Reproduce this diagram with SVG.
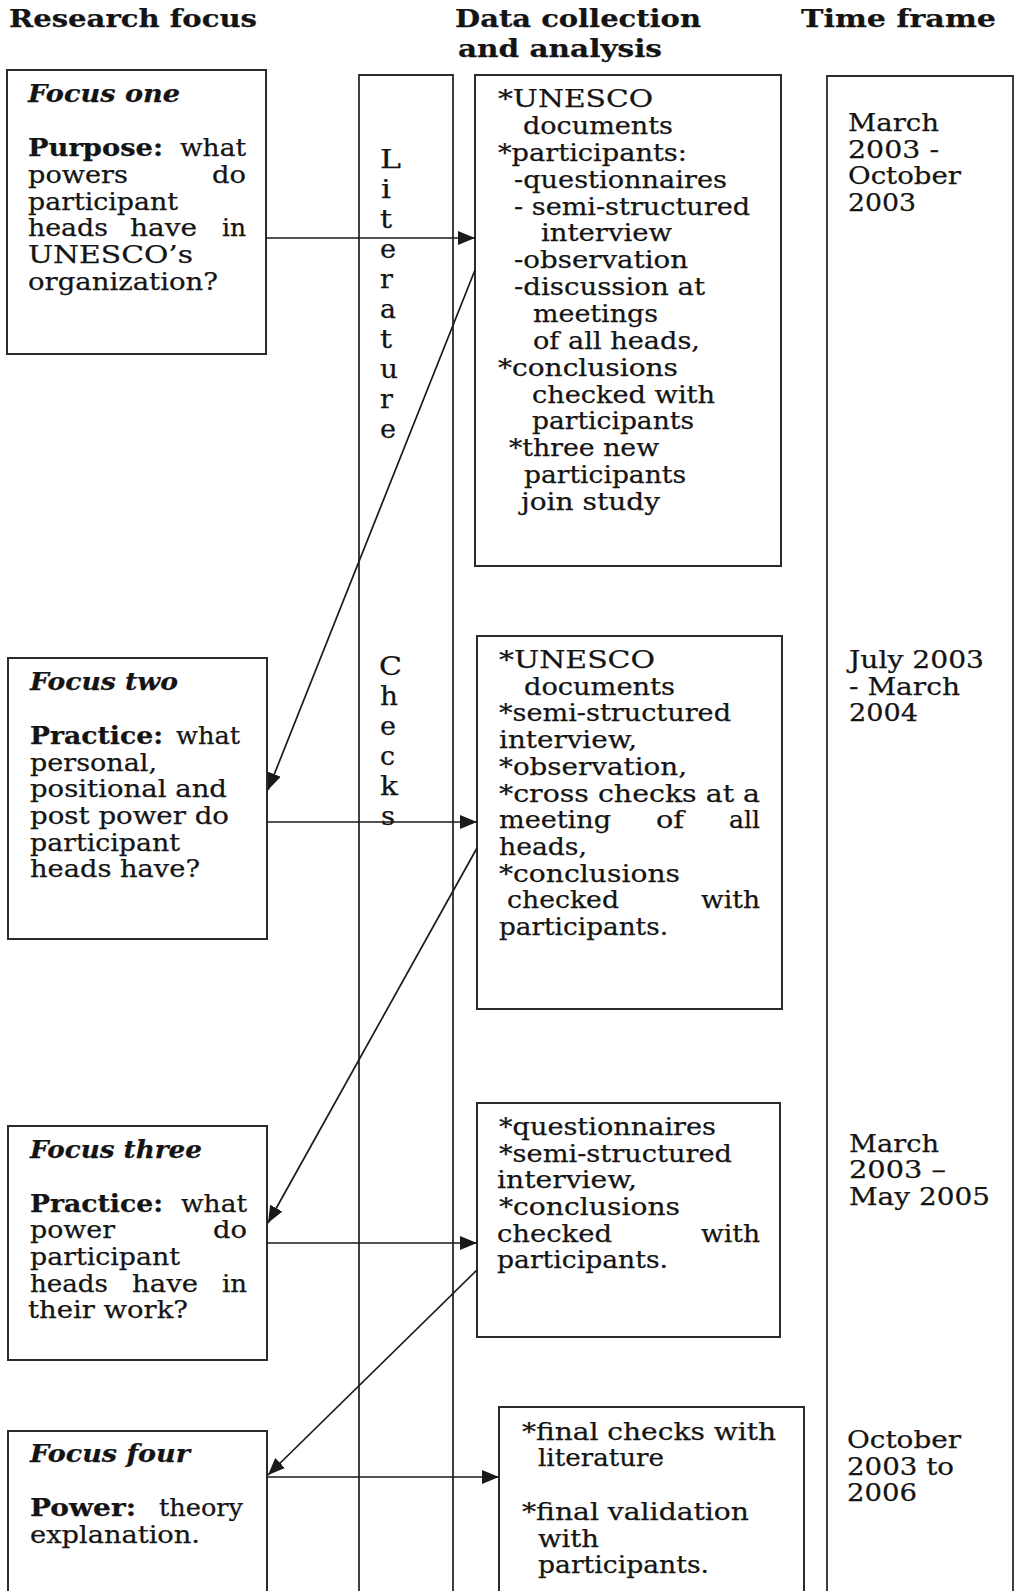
<svg xmlns="http://www.w3.org/2000/svg" width="1014" height="1591" viewBox="0 0 1014 1591">
<style>
text { font-family: "DejaVu Serif", "Liberation Serif", serif; font-size: 24px; fill: #141414; stroke: #141414; stroke-width: 0.25; }
.h { font-size: 25px; font-weight: bold; }
.b { font-weight: bold; }
.bi { font-weight: bold; font-style: italic; }
.v { font-size: 26px; }
.box { fill: none; stroke: #2b2b2b; stroke-width: 2; }
.col { fill: none; stroke: #2b2b2b; stroke-width: 1.8; }
.conn { fill: none; stroke: #1a1a1a; stroke-width: 1.7; marker-end: url(#ah); }
</style>
<defs>
<marker id="ah" markerUnits="userSpaceOnUse" markerWidth="18" markerHeight="14" refX="17" refY="7" orient="auto">
<path d="M0,0 L17,7 L0,14 z" fill="#1a1a1a"/>
</marker>
</defs>
<rect width="1014" height="1591" fill="#ffffff"/>

<g id="headers">
<text class="h" x="9" y="27" textLength="248" lengthAdjust="spacingAndGlyphs">Research focus</text>
<text class="h" x="455" y="27" textLength="246" lengthAdjust="spacingAndGlyphs">Data collection</text>
<text class="h" x="458" y="57" textLength="204" lengthAdjust="spacingAndGlyphs">and analysis</text>
<text class="h" x="801" y="27" textLength="195" lengthAdjust="spacingAndGlyphs">Time frame</text>
</g>

<g id="literature-checks">
<path class="col" d="M359,1595 V75 H453 V1595"/>
<text class="v" x="380" y="168" textLength="21" lengthAdjust="spacingAndGlyphs">L</text>
<text class="v" x="381" y="198" textLength="10" lengthAdjust="spacingAndGlyphs">i</text>
<text class="v" x="380" y="228" textLength="12" lengthAdjust="spacingAndGlyphs">t</text>
<text class="v" x="380" y="258" textLength="16" lengthAdjust="spacingAndGlyphs">e</text>
<text class="v" x="380" y="288" textLength="13" lengthAdjust="spacingAndGlyphs">r</text>
<text class="v" x="380" y="318" textLength="16" lengthAdjust="spacingAndGlyphs">a</text>
<text class="v" x="380" y="348" textLength="12" lengthAdjust="spacingAndGlyphs">t</text>
<text class="v" x="380" y="378" textLength="18" lengthAdjust="spacingAndGlyphs">u</text>
<text class="v" x="380" y="408" textLength="13" lengthAdjust="spacingAndGlyphs">r</text>
<text class="v" x="380" y="438" textLength="16" lengthAdjust="spacingAndGlyphs">e</text>
<text class="v" x="379" y="675" textLength="23" lengthAdjust="spacingAndGlyphs">C</text>
<text class="v" x="380" y="705" textLength="18" lengthAdjust="spacingAndGlyphs">h</text>
<text class="v" x="380" y="735" textLength="16" lengthAdjust="spacingAndGlyphs">e</text>
<text class="v" x="380" y="765" textLength="15" lengthAdjust="spacingAndGlyphs">c</text>
<text class="v" x="380" y="795" textLength="18" lengthAdjust="spacingAndGlyphs">k</text>
<text class="v" x="381" y="825" textLength="14" lengthAdjust="spacingAndGlyphs">s</text>
</g>

<g id="timeframe">
<path class="col" d="M827,1595 V76 H1013 V1595"/>
<text x="848" y="131" textLength="91" lengthAdjust="spacingAndGlyphs">March</text>
<text x="848" y="158" textLength="91" lengthAdjust="spacingAndGlyphs">2003 -</text>
<text x="848" y="184" textLength="113" lengthAdjust="spacingAndGlyphs">October</text>
<text x="848" y="211" textLength="68" lengthAdjust="spacingAndGlyphs">2003</text>
<text x="849" y="668" textLength="135" lengthAdjust="spacingAndGlyphs">July 2003</text>
<text x="849" y="695" textLength="111" lengthAdjust="spacingAndGlyphs">- March</text>
<text x="849" y="721" textLength="69" lengthAdjust="spacingAndGlyphs">2004</text>
<text x="849" y="1152" textLength="90" lengthAdjust="spacingAndGlyphs">March</text>
<text x="849" y="1178" textLength="97" lengthAdjust="spacingAndGlyphs">2003 –</text>
<text x="849" y="1205" textLength="141" lengthAdjust="spacingAndGlyphs">May 2005</text>
<text x="847" y="1448" textLength="114" lengthAdjust="spacingAndGlyphs">October</text>
<text x="847" y="1475" textLength="107" lengthAdjust="spacingAndGlyphs">2003 to</text>
<text x="847" y="1501" textLength="70" lengthAdjust="spacingAndGlyphs">2006</text>
</g>

<g id="focus-one">
<rect class="box" x="7" y="70" width="259" height="284"/>
<text class="bi" x="28" y="102" textLength="152" lengthAdjust="spacingAndGlyphs">Focus one</text>
<text class="b" x="28" y="156" textLength="135" lengthAdjust="spacingAndGlyphs">Purpose:</text>
<text x="180" y="156" textLength="66" lengthAdjust="spacingAndGlyphs">what</text>
<text x="28" y="183" textLength="100" lengthAdjust="spacingAndGlyphs">powers</text>
<text x="212" y="183" textLength="34" lengthAdjust="spacingAndGlyphs">do</text>
<text x="28" y="210" textLength="150" lengthAdjust="spacingAndGlyphs">participant</text>
<text x="28" y="236" textLength="80" lengthAdjust="spacingAndGlyphs">heads</text>
<text x="130" y="236" textLength="67" lengthAdjust="spacingAndGlyphs">have</text>
<text x="222" y="236" textLength="24" lengthAdjust="spacingAndGlyphs">in</text>
<text x="28" y="263" textLength="165" lengthAdjust="spacingAndGlyphs">UNESCO’s</text>
<text x="28" y="290" textLength="190" lengthAdjust="spacingAndGlyphs">organization?</text>
</g>

<g id="focus-two">
<rect class="box" x="8" y="658" width="259" height="281"/>
<text class="bi" x="30" y="690" textLength="148" lengthAdjust="spacingAndGlyphs">Focus two</text>
<text class="b" x="30" y="744" textLength="133" lengthAdjust="spacingAndGlyphs">Practice:</text>
<text x="176" y="744" textLength="64" lengthAdjust="spacingAndGlyphs">what</text>
<text x="30" y="771" textLength="127" lengthAdjust="spacingAndGlyphs">personal,</text>
<text x="30" y="797" textLength="197" lengthAdjust="spacingAndGlyphs">positional and</text>
<text x="30" y="824" textLength="199" lengthAdjust="spacingAndGlyphs">post power do</text>
<text x="30" y="851" textLength="150" lengthAdjust="spacingAndGlyphs">participant</text>
<text x="30" y="877" textLength="170" lengthAdjust="spacingAndGlyphs">heads have?</text>
</g>

<g id="focus-three">
<rect class="box" x="8" y="1126" width="259" height="234"/>
<text class="bi" x="30" y="1158" textLength="172" lengthAdjust="spacingAndGlyphs">Focus three</text>
<text class="b" x="30" y="1212" textLength="133" lengthAdjust="spacingAndGlyphs">Practice:</text>
<text x="181" y="1212" textLength="66" lengthAdjust="spacingAndGlyphs">what</text>
<text x="30" y="1238" textLength="85" lengthAdjust="spacingAndGlyphs">power</text>
<text x="213" y="1238" textLength="34" lengthAdjust="spacingAndGlyphs">do</text>
<text x="30" y="1265" textLength="150" lengthAdjust="spacingAndGlyphs">participant</text>
<text x="30" y="1292" textLength="78" lengthAdjust="spacingAndGlyphs">heads</text>
<text x="132" y="1292" textLength="66" lengthAdjust="spacingAndGlyphs">have</text>
<text x="222" y="1292" textLength="25" lengthAdjust="spacingAndGlyphs">in</text>
<text x="28" y="1318" textLength="160" lengthAdjust="spacingAndGlyphs">their work?</text>
</g>

<g id="focus-four">
<path class="box" d="M8,1595 V1431 H267 V1595"/>
<text class="bi" x="30" y="1462" textLength="160" lengthAdjust="spacingAndGlyphs">Focus four</text>
<text class="b" x="30" y="1516" textLength="106" lengthAdjust="spacingAndGlyphs">Power:</text>
<text x="159" y="1516" textLength="84" lengthAdjust="spacingAndGlyphs">theory</text>
<text x="30" y="1543" textLength="170" lengthAdjust="spacingAndGlyphs">explanation.</text>
</g>

<g id="data-one">
<rect class="box" x="475" y="75" width="306" height="491"/>
<text x="498" y="107" textLength="155" lengthAdjust="spacingAndGlyphs">*UNESCO</text>
<text x="523" y="134" textLength="150" lengthAdjust="spacingAndGlyphs">documents</text>
<text x="498" y="161" textLength="189" lengthAdjust="spacingAndGlyphs">*participants:</text>
<text x="514" y="188" textLength="213" lengthAdjust="spacingAndGlyphs">-questionnaires</text>
<text x="514" y="215" textLength="236" lengthAdjust="spacingAndGlyphs">- semi-structured</text>
<text x="541" y="241" textLength="131" lengthAdjust="spacingAndGlyphs">interview</text>
<text x="514" y="268" textLength="174" lengthAdjust="spacingAndGlyphs">-observation</text>
<text x="514" y="295" textLength="191" lengthAdjust="spacingAndGlyphs">-discussion at</text>
<text x="533" y="322" textLength="125" lengthAdjust="spacingAndGlyphs">meetings</text>
<text x="533" y="349" textLength="167" lengthAdjust="spacingAndGlyphs">of all heads,</text>
<text x="498" y="376" textLength="180" lengthAdjust="spacingAndGlyphs">*conclusions</text>
<text x="532" y="403" textLength="183" lengthAdjust="spacingAndGlyphs">checked with</text>
<text x="532" y="429" textLength="162" lengthAdjust="spacingAndGlyphs">participants</text>
<text x="509" y="456" textLength="150" lengthAdjust="spacingAndGlyphs">*three new</text>
<text x="524" y="483" textLength="162" lengthAdjust="spacingAndGlyphs">participants</text>
<text x="521" y="510" textLength="139" lengthAdjust="spacingAndGlyphs">join study</text>
</g>

<g id="data-two">
<rect class="box" x="477" y="636" width="305" height="373"/>
<text x="499" y="668" textLength="156" lengthAdjust="spacingAndGlyphs">*UNESCO</text>
<text x="524" y="695" textLength="151" lengthAdjust="spacingAndGlyphs">documents</text>
<text x="499" y="721" textLength="232" lengthAdjust="spacingAndGlyphs">*semi-structured</text>
<text x="499" y="748" textLength="138" lengthAdjust="spacingAndGlyphs">interview,</text>
<text x="499" y="775" textLength="188" lengthAdjust="spacingAndGlyphs">*observation,</text>
<text x="499" y="802" textLength="261" lengthAdjust="spacingAndGlyphs">*cross checks at a</text>
<text x="499" y="828" textLength="112" lengthAdjust="spacingAndGlyphs">meeting</text>
<text x="656" y="828" textLength="28" lengthAdjust="spacingAndGlyphs">of</text>
<text x="729" y="828" textLength="31" lengthAdjust="spacingAndGlyphs">all</text>
<text x="499" y="855" textLength="88" lengthAdjust="spacingAndGlyphs">heads,</text>
<text x="499" y="882" textLength="181" lengthAdjust="spacingAndGlyphs">*conclusions</text>
<text x="507" y="908" textLength="112" lengthAdjust="spacingAndGlyphs">checked</text>
<text x="701" y="908" textLength="59" lengthAdjust="spacingAndGlyphs">with</text>
<text x="499" y="935" textLength="169" lengthAdjust="spacingAndGlyphs">participants.</text>
</g>

<g id="data-three">
<rect class="box" x="477" y="1103" width="303" height="234"/>
<text x="499" y="1135" textLength="217" lengthAdjust="spacingAndGlyphs">*questionnaires</text>
<text x="499" y="1162" textLength="233" lengthAdjust="spacingAndGlyphs">*semi-structured</text>
<text x="497" y="1188" textLength="140" lengthAdjust="spacingAndGlyphs">interview,</text>
<text x="499" y="1215" textLength="181" lengthAdjust="spacingAndGlyphs">*conclusions</text>
<text x="497" y="1242" textLength="115" lengthAdjust="spacingAndGlyphs">checked</text>
<text x="701" y="1242" textLength="59" lengthAdjust="spacingAndGlyphs">with</text>
<text x="497" y="1268" textLength="171" lengthAdjust="spacingAndGlyphs">participants.</text>
</g>

<g id="data-four">
<path class="box" d="M499,1595 V1407 H804 V1595"/>
<text x="522" y="1440" textLength="254" lengthAdjust="spacingAndGlyphs">*final checks with</text>
<text x="538" y="1466" textLength="126" lengthAdjust="spacingAndGlyphs">literature</text>
<text x="522" y="1520" textLength="227" lengthAdjust="spacingAndGlyphs">*final validation</text>
<text x="538" y="1547" textLength="61" lengthAdjust="spacingAndGlyphs">with</text>
<text x="538" y="1573" textLength="171" lengthAdjust="spacingAndGlyphs">participants.</text>
</g>

<g id="connectors">
<line class="conn" x1="266" y1="238" x2="475" y2="238"/>
<line class="conn" x1="475" y1="270" x2="268" y2="790"/>
<line class="conn" x1="267" y1="822" x2="477" y2="822"/>
<line class="conn" x1="477" y1="848" x2="268" y2="1223"/>
<line class="conn" x1="267" y1="1243" x2="477" y2="1243"/>
<line class="conn" x1="477" y1="1270" x2="268" y2="1475"/>
<line class="conn" x1="267" y1="1477" x2="499" y2="1477"/>
</g>
</svg>
